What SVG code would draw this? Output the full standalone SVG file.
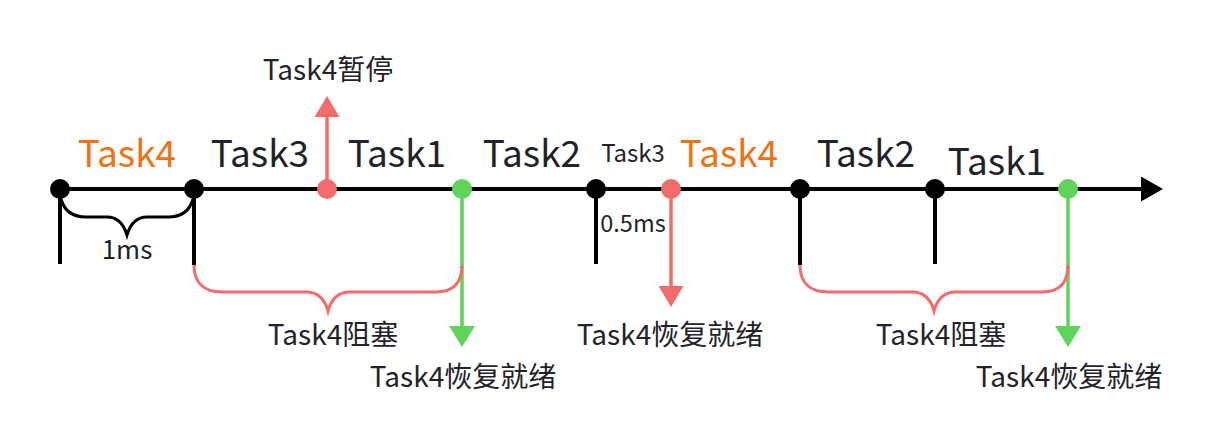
<svg xmlns="http://www.w3.org/2000/svg" width="1228" height="444" viewBox="0 0 1228 444">
<style>
text{font-family:"Noto Sans CJK SC","Noto Sans",sans-serif;fill:#1f2329;text-anchor:middle}
.big{font-size:37px}
.orange{fill:#ee7216}
.lbl{font-size:28px}
.sm{font-size:24px}
.blk{stroke:#000;stroke-width:4;fill:none}
.red{stroke:#f46b6b;stroke-width:3.5;fill:none}
.grn{stroke:#60d35a;stroke-width:3.5;fill:none}
.brace{stroke-width:3;fill:none}
</style>
<defs>
<marker id="ah-black" markerWidth="22" markerHeight="25" refX="0" refY="12.5" orient="auto" markerUnits="userSpaceOnUse"><path d="M0,0 L22,12.5 L0,25 Z" fill="#000"/></marker>
<marker id="ah-red" markerWidth="21" markerHeight="25" refX="0" refY="12.5" orient="auto" markerUnits="userSpaceOnUse"><path d="M0,0 L21,12.5 L0,25 Z" fill="#f46b6b"/></marker>
<marker id="ah-green" markerWidth="21" markerHeight="26" refX="0" refY="13" orient="auto" markerUnits="userSpaceOnUse"><path d="M0,0 L21,13 L0,26 Z" fill="#60d35a"/></marker>
</defs>
<g id="connectors">
<line class="blk" x1="60" y1="189" x2="1141" y2="189" marker-end="url(#ah-black)"/>
<line class="blk" x1="60" y1="189" x2="60" y2="264"/>
<line class="blk" x1="194" y1="189" x2="194" y2="265"/>
<line class="blk" x1="596" y1="189" x2="596" y2="264"/>
<line class="blk" x1="800" y1="189" x2="800" y2="265"/>
<line class="blk" x1="935" y1="189" x2="935" y2="264"/>
<line class="red" x1="327" y1="189" x2="327" y2="117" marker-end="url(#ah-red)"/>
<line class="red" x1="671" y1="189" x2="671" y2="286" marker-end="url(#ah-red)"/>
<line class="grn" x1="462" y1="189" x2="462" y2="326" marker-end="url(#ah-green)"/>
<line class="grn" x1="1068" y1="189" x2="1068" y2="326" marker-end="url(#ah-green)"/>
<path class="brace" stroke="#000" d="M61,199 C64,210 72,217 86,217 L107,217 C118,217 124,225 127,235 C130,225 136,217 147,217 L168,217 C182,217 190,210 193,199"/>
<path class="brace" stroke="#f46b6b" d="M194,265 C194,283 204,292 222,292 L306,292 C318,292 325,300 328,311 C331,300 338,292 350,292 L436,292 C453,292 462,283 462,265"/>
<path class="brace" stroke="#f46b6b" d="M800,265 C800,283 810,292 828,292 L912,292 C924,292 931,300 934,311 C937,300 944,292 956,292 L1042,292 C1059,292 1068,283 1068,265"/>
</g>
<g id="dots">
<circle cx="60" cy="189" r="10" fill="#000"/>
<circle cx="194" cy="189" r="10" fill="#000"/>
<circle cx="327" cy="189" r="10" fill="#f46b6b"/>
<circle cx="462" cy="189" r="10" fill="#60d35a"/>
<circle cx="596" cy="189" r="10" fill="#000"/>
<circle cx="671" cy="189" r="10" fill="#f46b6b"/>
<circle cx="800" cy="189" r="10" fill="#000"/>
<circle cx="935" cy="189" r="10" fill="#000"/>
<circle cx="1068" cy="189" r="10" fill="#60d35a"/>
</g>
<g id="task-labels">
<text class="big orange" x="127" y="167">Task4</text>
<text class="big" x="260" y="167">Task3</text>
<text class="big" x="397" y="167">Task1</text>
<text class="big" x="532" y="167">Task2</text>
<text class="sm" x="633" y="162">Task3</text>
<text class="big orange" x="729" y="167">Task4</text>
<text class="big" x="866" y="167">Task2</text>
<text class="big" x="997" y="175">Task1</text>
</g>
<g id="annotations">
<text x="127" y="259" style="font-size:26px">1ms</text>
<text x="633" y="232" style="font-size:23.5px">0.5ms</text>
<text class="lbl" x="328" y="80">Task4暂停</text>
<text class="lbl" x="333" y="345">Task4阻塞</text>
<text class="lbl" x="463" y="387">Task4恢复就绪</text>
<text class="lbl" x="670" y="345">Task4恢复就绪</text>
<text class="lbl" x="941" y="345">Task4阻塞</text>
<text class="lbl" x="1069" y="387">Task4恢复就绪</text>
</g>
</svg>
